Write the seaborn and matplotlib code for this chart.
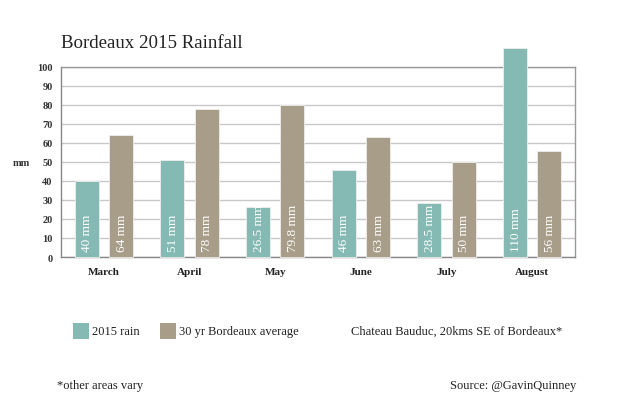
import matplotlib
matplotlib.use("Agg")
import matplotlib.pyplot as plt
from matplotlib.patches import Rectangle
import seaborn as sns
import pandas as pd

months = ["March", "April", "May", "June", "July", "August"]
rain_2015 = [40, 51, 26.5, 46, 28.5, 110]
avg_30yr = [64, 78, 79.8, 63, 50, 56]
series_names = ["2015 rain", "30 yr Bordeaux average"]
y_ticks = [0, 10, 20, 30, 40, 50, 60, 70, 80, 90, 100]

TEAL = "#84BAB3"
TAN = "#A89D88"
SERIF = ["Liberation Serif", "DejaVu Serif"]

df = pd.DataFrame({
    "month": months * 2,
    "value": rain_2015 + avg_30yr,
    "series": [series_names[0]] * len(months) + [series_names[1]] * len(months),
})

sns.set_style("white")
plt.rcParams["font.family"] = SERIF

fig = plt.figure(figsize=(6.3, 4.1), dpi=100)
ax = fig.add_axes([61 / 630, 1 - 258 / 410, 514 / 630, 190 / 410])

sns.barplot(data=df, x="month", y="value", hue="series", order=months,
            hue_order=series_names, palette=[TEAL, TAN], width=0.8, gap=0.3,
            saturation=1, legend=False, ax=ax, edgecolor="#eeeeee", linewidth=0.6,
            zorder=3)

for cont in ax.containers:
    for bar, v in zip(cont, cont.datavalues):
        bar.set_clip_on(False)
        ax.annotate(f"{v:g} mm", xy=(bar.get_x() + bar.get_width() / 2, 0),
                    xytext=(0.5, 4), textcoords="offset points",
                    rotation=90, ha="center", va="bottom", color="white",
                    fontsize=9.5, family=SERIF, zorder=5)

ax.set_ylim(0, 100)
ax.set_xlim(-0.5, len(months) - 0.5)
ax.set_yticks(y_ticks)
ax.set_yticklabels([str(v) for v in y_ticks], fontsize=7.5, fontweight="bold", color="#333333")
ax.tick_params(axis="x", labelsize=8, colors="#222222", length=0, pad=7)
ax.tick_params(axis="y", length=0, pad=6)
for lab in ax.get_xticklabels():
    lab.set_fontweight("bold")
ax.set_xlabel("")
ax.set_ylabel("")
ax.yaxis.grid(True, color="#c8c8c8", linewidth=1, zorder=0)
ax.set_axisbelow(True)
for s in ax.spines.values():
    s.set_color("#999999")
    s.set_linewidth(1)
    s.set_visible(True)
ax.spines["bottom"].set_color("#888888")
ax.spines["left"].set_color("#888888")

fig.text(13 / 630, 1 - 164 / 410, "mm", fontsize=7.5, fontweight="bold",
         color="#333333", va="center", ha="left")
fig.text(61 / 630, 1 - 43 / 410, "Bordeaux 2015 Rainfall", fontsize=13.6,
         color="#222222", va="center", ha="left")

# legend
for xpos, col, name in [(73, TEAL, series_names[0]), (160, TAN, series_names[1])]:
    fig.patches.append(Rectangle((xpos / 630, 1 - 340 / 410), 16 / 630, 16 / 410,
                                 transform=fig.transFigure, facecolor=col,
                                 edgecolor="none"))
    fig.text((xpos + 19) / 630, 1 - 332 / 410, name, fontsize=9,
             color="#222222", va="center", ha="left")
fig.text(351 / 630, 1 - 332 / 410, "Chateau Bauduc, 20kms SE of Bordeaux*",
         fontsize=9, color="#222222", va="center", ha="left")
fig.text(57 / 630, 1 - 386 / 410, "*other areas vary", fontsize=9,
         color="#222222", va="center", ha="left")
fig.text(576 / 630, 1 - 386 / 410, "Source: @GavinQuinney", fontsize=9,
         color="#222222", va="center", ha="right")

fig.savefig("out.png", dpi=100, facecolor="white")
